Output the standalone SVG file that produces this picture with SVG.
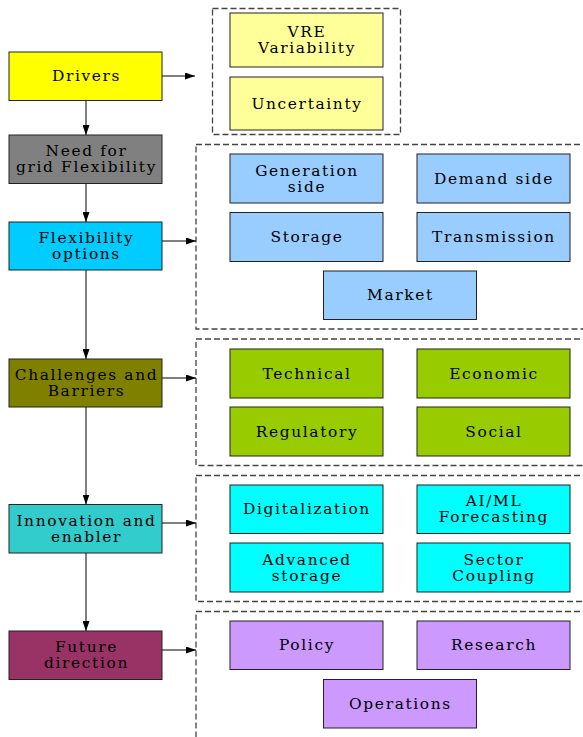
<svg xmlns="http://www.w3.org/2000/svg" width="583" height="737" viewBox="0 0 583 737">
<defs>
<marker id="ah" markerWidth="10" markerHeight="7" refX="10" refY="3.5" orient="auto" markerUnits="userSpaceOnUse"><path d="M0,0 L10,3.5 L0,7 z" fill="#000"/></marker>
</defs>
<style>
.n rect{stroke:#222;stroke-width:1}
.c{fill:none;stroke:#444;stroke-width:1.3;stroke-dasharray:6,3}
.n text{font-family:"DejaVu Serif",serif;font-size:14px;fill:#000;text-anchor:middle;letter-spacing:1.5px}
.e{stroke:#000;stroke-width:1;fill:none;marker-end:url(#ah)}
</style>
<rect width="583" height="737" fill="#fff"/>
<g id="clusters">
<rect class="c" x="212.5" y="8.5" width="188" height="126"/>
<rect class="c" x="196" y="144.5" width="400" height="184.5"/>
<rect class="c" x="196" y="339" width="400" height="126.5"/>
<rect class="c" x="196" y="475.5" width="400" height="126"/>
<rect class="c" x="196" y="611.5" width="400" height="140"/>
</g>
<g id="connectors">
<path class="e" d="M86,100.5 V135"/>
<path class="e" d="M86,183.5 V222"/>
<path class="e" d="M86,270 V359"/>
<path class="e" d="M86,407 V504.5"/>
<path class="e" d="M86,553 V631"/>
<path class="e" d="M162,76 H195"/>
<path class="e" d="M162,241 H196"/>
<path class="e" d="M162,378 H196"/>
<path class="e" d="M162,523 H196"/>
<path class="e" d="M162,650 H196"/>
</g>
<g id="drivers" class="n"><rect x="9" y="52" width="153" height="48.5" fill="#ffff00"/><text transform="translate(86.5,81) scale(1.1,1)">Drivers</text></g>
<g id="need" class="n"><rect x="9" y="135" width="153" height="48.5" fill="#808080"/><text transform="translate(86.5,156) scale(1.1,1)">Need for</text><text transform="translate(86.5,172) scale(1.1,1)">grid Flexibility</text></g>
<g id="flexopt" class="n"><rect x="9" y="222" width="153" height="48" fill="#00ccff"/><text transform="translate(86.5,243) scale(1.1,1)">Flexibility</text><text transform="translate(86.5,259) scale(1.1,1)">options</text></g>
<g id="challenges" class="n"><rect x="9" y="359" width="153" height="48" fill="#808000"/><text transform="translate(86.5,380) scale(1.1,1)">Challenges and</text><text transform="translate(86.5,396) scale(1.1,1)">Barriers</text></g>
<g id="innovation" class="n"><rect x="9" y="504.5" width="153" height="48.5" fill="#33cccc"/><text transform="translate(86.5,526) scale(1.1,1)">Innovation and</text><text transform="translate(86.5,542) scale(1.1,1)">enabler</text></g>
<g id="future" class="n"><rect x="9" y="631" width="153" height="48.5" fill="#993366"/><text transform="translate(86.5,652) scale(1.1,1)">Future</text><text transform="translate(86.5,668) scale(1.1,1)">direction</text></g>
<g id="vre" class="n"><rect x="230" y="13" width="153" height="54" fill="#ffff99"/><text transform="translate(307,37) scale(1.1,1)">VRE</text><text transform="translate(307,53) scale(1.1,1)">Variability</text></g>
<g id="uncertainty" class="n"><rect x="230" y="77" width="153" height="53" fill="#ffff99"/><text transform="translate(307,108.5) scale(1.1,1)">Uncertainty</text></g>
<g id="generation" class="n"><rect x="230" y="154" width="153" height="49" fill="#99ccff"/><text transform="translate(307,175.5) scale(1.1,1)">Generation</text><text transform="translate(307,191.5) scale(1.1,1)">side</text></g>
<g id="demand" class="n"><rect x="417" y="154" width="153" height="49" fill="#99ccff"/><text transform="translate(494,183.5) scale(1.1,1)">Demand side</text></g>
<g id="storage" class="n"><rect x="230" y="212.5" width="153" height="49" fill="#99ccff"/><text transform="translate(307,242) scale(1.1,1)">Storage</text></g>
<g id="transmission" class="n"><rect x="417" y="212.5" width="153" height="49" fill="#99ccff"/><text transform="translate(494,242) scale(1.1,1)">Transmission</text></g>
<g id="market" class="n"><rect x="323.5" y="271" width="153" height="48.5" fill="#99ccff"/><text transform="translate(400.5,300) scale(1.1,1)">Market</text></g>
<g id="technical" class="n"><rect x="230" y="349" width="153" height="49" fill="#99cc00"/><text transform="translate(307,378.5) scale(1.1,1)">Technical</text></g>
<g id="economic" class="n"><rect x="417" y="349" width="153" height="49" fill="#99cc00"/><text transform="translate(494,378.5) scale(1.1,1)">Economic</text></g>
<g id="regulatory" class="n"><rect x="230" y="407" width="153" height="49" fill="#99cc00"/><text transform="translate(307,436.5) scale(1.1,1)">Regulatory</text></g>
<g id="social" class="n"><rect x="417" y="407" width="153" height="49" fill="#99cc00"/><text transform="translate(494,436.5) scale(1.1,1)">Social</text></g>
<g id="digitalization" class="n"><rect x="230" y="485" width="153" height="48.5" fill="#00ffff"/><text transform="translate(307,514) scale(1.1,1)">Digitalization</text></g>
<g id="aiml" class="n"><rect x="417" y="485" width="153" height="48.5" fill="#00ffff"/><text transform="translate(494,506) scale(1.1,1)">AI/ML</text><text transform="translate(494,522) scale(1.1,1)">Forecasting</text></g>
<g id="advstorage" class="n"><rect x="230" y="543" width="153" height="49" fill="#00ffff"/><text transform="translate(307,564.5) scale(1.1,1)">Advanced</text><text transform="translate(307,580.5) scale(1.1,1)">storage</text></g>
<g id="sector" class="n"><rect x="417" y="543" width="153" height="49" fill="#00ffff"/><text transform="translate(494,564.5) scale(1.1,1)">Sector</text><text transform="translate(494,580.5) scale(1.1,1)">Coupling</text></g>
<g id="policy" class="n"><rect x="230" y="621" width="153" height="48.5" fill="#cc99ff"/><text transform="translate(307,650) scale(1.1,1)">Policy</text></g>
<g id="research" class="n"><rect x="417" y="621" width="153" height="48.5" fill="#cc99ff"/><text transform="translate(494,650) scale(1.1,1)">Research</text></g>
<g id="operations" class="n"><rect x="323.5" y="679.5" width="153" height="48.5" fill="#cc99ff"/><text transform="translate(400.5,708.5) scale(1.1,1)">Operations</text></g>
</svg>
